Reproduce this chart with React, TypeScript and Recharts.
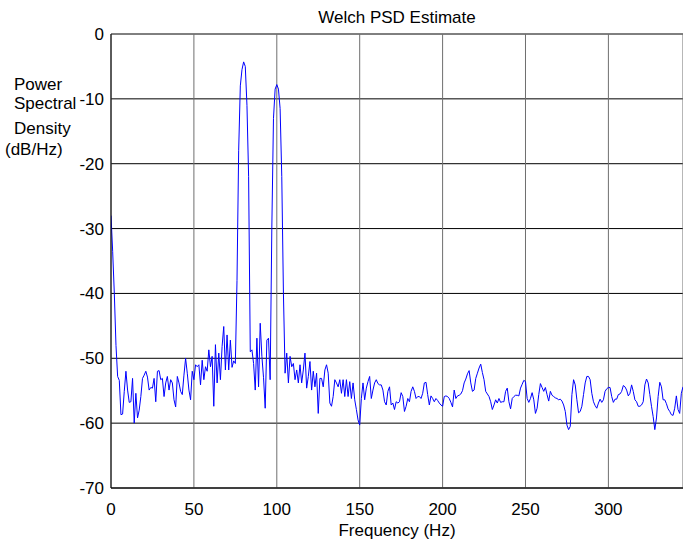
import { LineChart, Line, XAxis, YAxis, CartesianGrid } from 'recharts';

const freqTicks = [0, 50, 100, 150, 200, 250, 300];
const dbTicks = [-70, -60, -50, -40, -30, -20, -10, 0];
const binWidthHz = 1;

// PSD in dB/Hz, one value per 1 Hz bin
const psdLow = [
  -28, -33.5, -40, -48, -52.8, -53.4, -58.7, -58.6, -55.1, -52,
  -54.9, -56.8, -56.7, -53.1, -60, -55.4, -59.2, -58, -55.9, -53.1,
  -52.6, -52, -52.9, -54.9, -54.5, -54.6, -53.1, -56.7, -52, -51.9,
  -53.3, -53.1, -55.9, -53.8, -52.8, -54.9, -53.3, -53.8, -56.4, -57.5,
  -52.8, -53.8, -55.1, -55.6, -52.6, -50, -52.3, -54.9, -56.4, -52,
  -53.3, -51, -51.3, -51, -54.1, -50.3, -53.3, -51.3, -52, -48.7,
  -51.3, -49.7, -57.4, -47.9, -53.8, -49.2, -53.3, -48.2, -45.1, -51.8,
  -46.4, -51.8, -47.2, -51.4, -50.4, -50.8,
];

const psdPeaks = [
  -38, -18, -8, -5.5,
  -4.3, -5, -11, -22, -49, -48.7, -50.8, -54.9, -46.9, -54.4,
  -44.6, -49.7, -53, -57.7, -47.2, -46.9, -53.3, -30, -13, -8.5,
  -7.8, -8.5, -11.5, -22, -40, -52.3, -49.2, -53.8, -49.7, -51.3,
  -50.8, -53.3, -51.8, -53.8, -51, -53.8, -51.8, -49.2, -54.6, -52.8,
  -50.5, -54.9, -52, -54.4, -52.3, -58.5, -53.1, -53.1, -54.4, -51.8,
  -51, -52.3, -56.9, -57.4, -55.9, -53.3, -53.8, -54.4,
];

const psdMid = [
  -53.3, -55.4,
  -53.3, -55.9, -53.3, -55.9, -53.6, -56.2, -53.8, -56.4, -57.9, -59.5,
  -60.3, -56.2, -53.8, -56.4, -54.6, -53.6, -52.8, -56.2, -54.9, -53.8,
  -53.3, -53.9, -54.1, -54.1, -54.9, -56.7, -57.2, -55.1, -54.4, -57.2,
  -56.9, -57.9, -56.7, -56.9, -56.7, -55.3, -55.9, -58.2, -57.4, -56.2,
  -56.7, -55.1, -54.4, -55.1, -56.2, -55.9, -55.9, -56.2, -55.4, -53.8,
  -53.7, -55.6, -57.2, -55.8, -56.2, -56.7, -56.2, -56.5, -56.9, -57.2,
  -57.4, -55.9, -55.8, -55.9, -56.2, -56.8, -57.5, -54.9, -56.2, -55.8,
  -55.7, -55.5, -55, -53.8, -53.2, -52.4, -51.9, -53.8, -55.1, -54.9,
  -53.1, -52.3, -51.5, -50.9, -52.2, -53.3, -55.1, -55.5, -55.9, -56.7,
  -57.9, -57.2, -56.4, -56.9, -56.2, -56.8, -56.7, -56.7, -55.1, -54.6,
  -56.7,
];

const psdHigh = [
  -57.8, -56.2, -55.9, -55.7, -55.7, -55.8, -54.6, -54, -53.4,
  -53.6, -56.2, -56.8, -56.2, -55.3, -56.4, -58.5, -57.7, -55.6, -53.9,
  -54.5, -55.1, -54.5, -55.6, -56.6, -55.1, -55.7, -55.9, -56.1, -56.2,
  -56.4, -56.3, -56.6, -57.2, -58.2, -60.3, -61, -60.5, -55.6, -53.3,
  -54.1, -56.4, -58.4, -58.2, -57.4, -55.6, -53.8, -52.8, -52.8, -53.3,
  -55.4, -56.7, -57.3, -57.7, -56.9, -56.3, -56.8, -56.4, -55.1, -54.7,
  -54.5, -54.5, -55.9, -56.8, -56.3, -56.3, -55.6, -55.5, -55.1, -54.2,
  -54.4, -54.9, -55.8, -55.4, -54.1, -55.1, -56.4, -56.7, -57.4, -57.4,
  -57.2, -56.7, -54.1, -53.2, -53.8, -55.6, -57.4, -59, -61, -59.2,
  -55.9, -53.7, -54.4, -56.4, -56.4, -57, -57.8, -58.2, -58.7, -58.8,
  -57.7, -55.8, -57.9, -58.5, -55.4, -54.4,
];

const psd = [...psdLow, ...psdPeaks, ...psdMid, ...psdHigh];
const data = psd.map((p, i) => ({ f: i * binWidthHz, p }));

const fontFamily = '"Liberation Sans", Arial, Helvetica, sans-serif';
const tickStyle = { fill: '#000', fontSize: 17, fontFamily };

const yLabelLines = [
  { text: 'Power', left: 14, top: 75 },
  { text: 'Spectral', left: 14, top: 94 },
  { text: 'Density', left: 14, top: 119 },
  { text: '(dB/Hz)', left: 5, top: 140 },
];

const textBox = {
  position: 'absolute' as const,
  fontFamily,
  fontSize: 17,
  lineHeight: '20px',
  color: '#000',
  whiteSpace: 'nowrap' as const,
};

export default function App() {
  return (
    <div style={{ position: 'absolute', left: 0, top: 0, width: 683, height: 540, background: '#fff', overflow: 'hidden' }}>
      <LineChart
        width={683}
        height={540}
        data={data}
        margin={{ top: 34, right: 0, left: 0, bottom: 0 }}
      >
        <CartesianGrid vertical={false} stroke="#000" strokeWidth={1} />
        <CartesianGrid horizontal={false} stroke="#6f6f6f" strokeWidth={1} />
        <XAxis
          dataKey="f"
          type="number"
          domain={[0, 345]}
          ticks={freqTicks}
          allowDataOverflow
          height={52}
          tickLine={false}
          tickSize={0}
          tickMargin={15}
          axisLine={{ stroke: '#000' }}
          tick={tickStyle}
        />
        <YAxis
          type="number"
          domain={[-70, 0]}
          ticks={dbTicks}
          allowDataOverflow
          width={111}
          tickLine={false}
          tickSize={0}
          tickMargin={7}
          axisLine={{ stroke: '#000' }}
          tick={tickStyle}
        />
        <Line
          type="linear"
          dataKey="p"
          stroke="#0000ff"
          strokeWidth={1}
          dot={false}
          activeDot={false}
          isAnimationActive={false}
        />
      </LineChart>
      <div style={{ ...textBox, left: 111, width: 572, top: 8, textAlign: 'center' }}>
        Welch PSD Estimate
      </div>
      <div style={{ ...textBox, left: 111, width: 572, top: 521, textAlign: 'center' }}>
        Frequency (Hz)
      </div>
      {yLabelLines.map((l) => (
        <div key={l.text} style={{ ...textBox, left: l.left, top: l.top }}>
          {l.text}
        </div>
      ))}
    </div>
  );
}
